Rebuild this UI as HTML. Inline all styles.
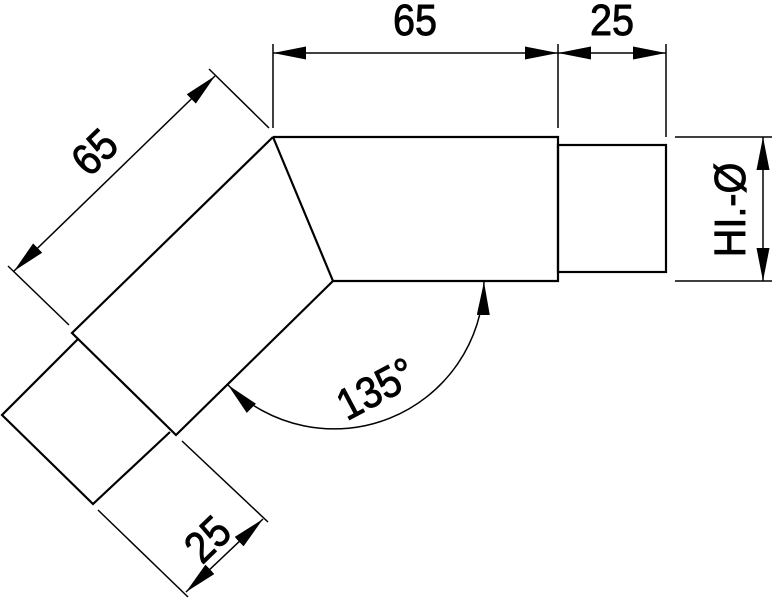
<!DOCTYPE html>
<html><head><meta charset="utf-8"><style>
html,body{margin:0;padding:0;background:#fff;}
svg{display:block;}
text{font-family:"Liberation Sans",Arial,sans-serif;fill:#000;stroke:#000;stroke-width:0.9;}
</style></head><body>
<svg width="772" height="600" viewBox="0 0 772 600" xmlns="http://www.w3.org/2000/svg">
<defs>
<marker id="a" markerUnits="userSpaceOnUse" markerWidth="34" markerHeight="14" refX="33" refY="6.5" orient="auto-start-reverse">
<path d="M0,0 L33,6.5 L0,13 Z" fill="#000"/>
</marker>
</defs>
<g stroke="#000" fill="none" stroke-width="2.2">
<polyline points="273,137 558,137 558,281 333,281 273,137"/>
<rect x="558" y="145" width="108" height="127"/>
<polyline points="273,137 72,333 176,435 333,281"/>
<polyline points="78,339 2,415 93,504 170,432"/>
</g>
<g stroke="#000" fill="none" stroke-width="1.5">
<line x1="273" y1="44" x2="273" y2="128"/>
<line x1="558" y1="44" x2="558" y2="128"/>
<line x1="666" y1="44" x2="666" y2="137"/>
<line x1="273" y1="53" x2="558" y2="53" marker-start="url(#a)" marker-end="url(#a)"/>
<line x1="558" y1="53" x2="666" y2="53" marker-start="url(#a)" marker-end="url(#a)"/>
<line x1="675" y1="137" x2="772" y2="137"/>
<line x1="675" y1="281" x2="772" y2="281"/>
<line x1="763" y1="137" x2="763" y2="281" marker-start="url(#a)" marker-end="url(#a)"/>
<line x1="269" y1="128" x2="209" y2="69"/>
<line x1="69" y1="325" x2="8" y2="266"/>
<line x1="14" y1="271" x2="215" y2="76" marker-start="url(#a)" marker-end="url(#a)"/>
<line x1="182" y1="441" x2="268" y2="522"/>
<line x1="98" y1="510" x2="188" y2="597"/>
<line x1="186" y1="592" x2="263" y2="519" marker-start="url(#a)" marker-end="url(#a)"/>
<path d="M484,282 A150,150 0 0 1 228,385" marker-start="url(#a)" marker-end="url(#a)"/>
</g>
<text transform="translate(415,35) scale(0.9,1)" font-size="44" text-anchor="middle">65</text>
<text transform="translate(612,35) scale(0.9,1)" font-size="44" text-anchor="middle">25</text>
<text transform="translate(745,210) rotate(-90) scale(0.9,1)" font-size="44" text-anchor="middle">HI.-Ø</text>
<text transform="translate(105,163) rotate(-44) scale(0.9,1)" font-size="44" text-anchor="middle">65</text>
<text transform="translate(218,550) rotate(-44) scale(0.9,1)" font-size="44" text-anchor="middle">25</text>
<text transform="translate(383,402) rotate(-28) scale(0.9,1)" font-size="44" text-anchor="middle">135°</text>
</svg>
</body></html>
